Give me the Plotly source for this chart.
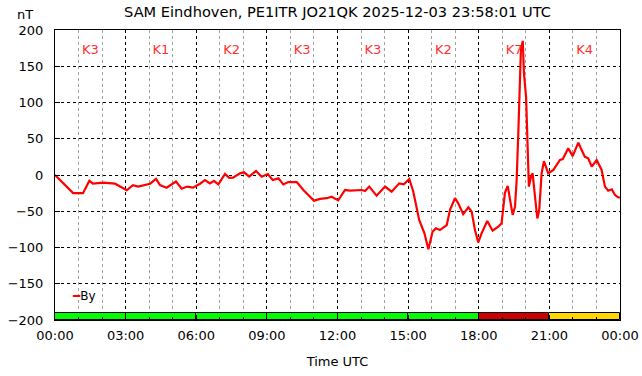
import plotly.graph_objects as go

# Time in hours UTC and By value (nT)
t_hours = [0.0, 0.77, 1.19, 1.46, 1.61, 2.04, 2.55, 3.05, 3.31, 3.53, 4.04, 4.29, 4.46, 4.74,
           5.14, 5.38, 5.61, 5.86, 6.16, 6.37, 6.58, 6.75, 6.94, 7.22, 7.40, 7.56, 7.86, 8.03,
           8.25, 8.54, 8.78, 9.04, 9.25, 9.49, 9.70, 9.91, 10.27, 10.55, 11.00, 11.26, 11.54,
           11.75, 12.03, 12.32, 12.53, 13.03, 13.17, 13.35, 13.66, 14.02, 14.30, 14.62, 14.82,
           15.05, 15.22, 15.47, 15.69, 15.86, 16.04, 16.18, 16.35, 16.64, 16.78, 16.99, 17.13,
           17.34, 17.56, 17.70, 17.84, 17.98, 18.12, 18.36, 18.59, 18.83, 18.97, 19.11, 19.23,
           19.33, 19.44, 19.54, 19.61, 19.68, 19.75, 19.79, 19.87, 19.92, 20.01, 20.06, 20.13,
           20.22, 20.29, 20.39, 20.49, 20.57, 20.67, 20.77, 20.95, 21.17, 21.45, 21.57, 21.80,
           21.99, 22.23, 22.37, 22.51, 22.65, 22.80, 23.01, 23.22, 23.36, 23.50, 23.65, 23.79,
           23.93, 24.0]
by_values = [0, -25, -25, -8, -12, -10.6, -12, -21, -14, -16, -12, -5.5, -14, -17.5,
             -9, -19, -16, -17.5, -12, -7, -11.5, -8, -13, 1.4, -4, -3.7, 2.3, 3.7,
             -2.3, 5.5, -2.3, 1.4, -7, -4.6, -13, -9.7, -9.7, -20.7, -35.4, -33, -32,
             -30, -35, -20.7, -21.6, -20.7, -22, -16, -28.5, -16, -23, -11.5, -12.9,
             -5.5, -23, -62, -80, -102.5, -78, -73.6, -76, -69, -48, -32, -39,
             -54, -44.6, -50.6, -76, -93, -80.5, -63.4, -76.8, -71.3, -66.7, -25, -15,
             -34.5, -55, -43.7, -7, 57.5, 122, 172, 185, 140, 108, 48, -16,
             -2.3, 2.3, -30, -60, -48, 2.3, 19, 2.3, 7, 20.7, 22, 36.8,
             26, 44.6, 34.5, 25, 23, 11.5, 20.7, 7, -16, -21.6, -19.7, -27.6,
             -31, -31]

# K-index per 3-hour block
k_centers = [1.5, 4.5, 7.5, 10.5, 13.5, 16.5, 19.5, 22.5]
k_index = [3, 1, 2, 3, 3, 2, 7, 4]
k_labels = ["K%d" % k for k in k_index]

tick_vals = [0, 3, 6, 9, 12, 15, 18, 21, 24]
tick_text = ["00:00", "03:00", "06:00", "09:00", "12:00", "15:00", "18:00", "21:00", "00:00"]


def k_color(k):
    if k >= 5:
        return "#cc0000"
    if k == 4:
        return "#ffd700"
    return "#00ff00"


fig = go.Figure()

fig.add_trace(go.Bar(
    x=k_centers, y=[10] * len(k_centers), base=-200, width=3,
    marker=dict(color=[k_color(k) for k in k_index], line=dict(color="black", width=1)),
    showlegend=False, hoverinfo="skip",
))

fig.add_trace(go.Scatter(
    x=k_centers, y=[172] * len(k_centers), mode="text", text=k_labels,
    textfont=dict(color="#ff3030", size=13, family="DejaVu Sans"),
    showlegend=False, hoverinfo="skip",
))

fig.add_trace(go.Scatter(
    x=t_hours, y=by_values, mode="lines", name="By",
    line=dict(color="#ff0000", width=2.2),
    showlegend=False,
))

fig.add_annotation(
    xref="paper", yref="paper", x=0.027, y=0.083, xanchor="left", yanchor="middle",
    text="<span style='color:#ff0000'>━</span>By", showarrow=False,
    font=dict(family="DejaVu Sans", size=12, color="black"),
)

fig.add_annotation(
    xref="paper", yref="paper", x=-0.053, y=1.052, xanchor="center", yanchor="middle",
    text="nT", showarrow=False,
    font=dict(family="DejaVu Sans", size=13, color="black"),
)

fig.update_layout(
    width=642, height=376, autosize=False,
    margin=dict(l=55, r=22, t=30, b=56, autoexpand=False),
    paper_bgcolor="white", plot_bgcolor="white",
    font=dict(family="DejaVu Sans", size=13, color="black"),
    title=dict(text="SAM Eindhoven, PE1ITR JO21QK 2025-12-03 23:58:01 UTC",
               x=0.5, xref="paper", y=0.968, yanchor="middle",
               font=dict(family="DejaVu Sans", size=14.6, color="black")),
    bargap=0,
    xaxis=dict(
        range=[0, 24], tickvals=tick_vals, ticktext=tick_text,
        showline=True, mirror=True, linecolor="black", linewidth=1,
        showgrid=True, gridcolor="black", griddash="dot", gridwidth=1,
        ticks="inside", ticklen=5, tickcolor="black",
        ticklabelstandoff=3, automargin=False,
        zeroline=False,
        minor=dict(dtick=1, showgrid=True, gridcolor="#a0a0a0", griddash="dot",
                   ticks="inside", ticklen=3, tickcolor="black"),
        title=dict(text="Time UTC", standoff=15, font=dict(size=13)),
    ),
    yaxis=dict(
        range=[-200, 200], dtick=50,
        showline=True, mirror=True, linecolor="black", linewidth=1,
        showgrid=True, gridcolor="black", griddash="dot", gridwidth=1,
        ticks="inside", ticklen=5, tickcolor="black",
        ticklabelstandoff=8, automargin=False,
        zeroline=False,
    ),
)

fig.write_html(
    "out.html",
    config={"responsive": False, "displayModeBar": False},
    post_script="document.body.style.margin='0';document.body.style.overflow='hidden';",
)
